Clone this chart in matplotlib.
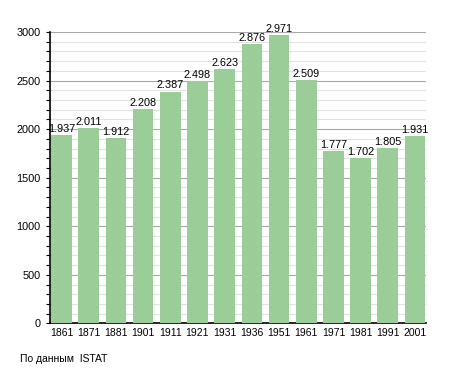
import matplotlib
matplotlib.use("Agg")
import matplotlib.pyplot as plt
from matplotlib.ticker import MultipleLocator

plt.rcParams['font.family'] = ['Liberation Sans', 'DejaVu Sans']

# census years and population
years = ["1861", "1871", "1881", "1901", "1911", "1921", "1931",
         "1936", "1951", "1961", "1971", "1981", "1991", "2001"]
population = [1937, 2011, 1912, 2208, 2387, 2498, 2623,
              2876, 2971, 2509, 1777, 1702, 1805, 1931]

fig = plt.figure(figsize=(4.55, 3.73), dpi=100)
ax = fig.add_axes([0.110, 0.133, 0.826, 0.781])

x = list(range(len(years)))
ax.bar(x, population, width=0.76, color="#9bcd99", zorder=3)

# labels with dot as thousands separator
for xi, v in zip(x, population):
    ax.text(xi, v + 12, "{:,}".format(v).replace(",", "."),
            ha="center", va="bottom", fontsize=7.8, zorder=4)

ax.set_xlim(-0.42, 13.4)
ax.set_ylim(0, 3000)
ax.set_xticks(x)
ax.set_xticklabels(years, fontsize=7.5)
ax.yaxis.set_major_locator(MultipleLocator(500))
ax.yaxis.set_minor_locator(MultipleLocator(100))
ax.tick_params(axis="y", labelsize=7.8, length=3, width=0.8, pad=4)
ax.tick_params(axis="y", which="minor", length=3, width=0.8)
ax.tick_params(axis="x", length=0, pad=3)

ax.grid(axis="y", which="major", color="#a8a8a8", linewidth=0.8, zorder=0)
ax.grid(axis="y", which="minor", color="#e2e2e2", linewidth=0.8, zorder=0)

for s in ["top", "right"]:
    ax.spines[s].set_visible(False)
ax.spines["left"].set_linewidth(1.2)
ax.spines["bottom"].set_linewidth(1.2)

fig.text(0.044, 0.03, "По данным  ISTAT", fontsize=7.5)

fig.savefig("out.png", dpi=100)
